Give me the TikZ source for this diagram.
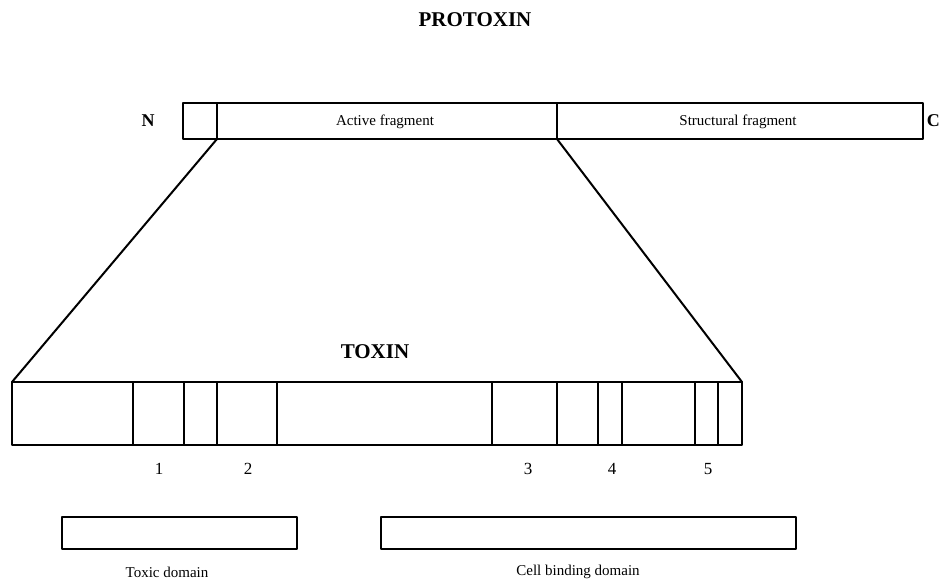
\documentclass[tikz,border=0pt]{standalone}
\usepackage{fontspec}
\setmainfont{Liberation Serif}
\begin{document}
\begin{tikzpicture}[x=1pt,y=-1pt,line cap=round,line join=round,every node/.style={font=\fontsize{15}{17}\selectfont}]
  \useasboundingbox (0,0) rectangle (942,582);
  \tikzset{heavy/.style={line width=2pt},
           title/.style={font=\fontsize{21}{24}\selectfont\bfseries},
           tag/.style={font=\fontsize{18}{20}\selectfont\bfseries}}
  % protoxin
  \coordinate (PA) at (183,103); \coordinate (PB) at (923,139);
  \coordinate (PL) at (217,139); \coordinate (PR) at (557,139);
  \draw[heavy] (PA) rectangle (PB);
  \draw[heavy] (217,103) -- (PL); \draw[heavy] (557,103) -- (PR);
  \node[title] (protoxin) at (475,20) {PROTOXIN};
  \node[tag] (nterm) at (148,121) {N};
  \node[tag,anchor=east,inner sep=0pt] (cterm) at (940,121) {C};
  \node (active) at (385,122) {Active fragment};
  \node (struct) at (738,122) {Structural fragment};
  % toxin
  \coordinate (TA) at (12,382); \coordinate (TB) at (742,445);
  \coordinate (TC) at (742,382);
  \draw[heavy] (TA) rectangle (TB);
  \foreach \x in {133,184,217,277,492,557,598,622,695,718}
    \draw[line width=1.6pt] (\x,382) -- (\x,445);
  \draw[heavy] (PL) -- (TA);
  \draw[heavy] (PR) -- (TC);
  \node[title] (toxin) at (375,352) {TOXIN};
  \foreach \n/\x in {1/159,2/248,3/528,4/612,5/708}
    \node[font=\fontsize{17}{19}\selectfont] (num\n) at (\x,469) {\n};
  % domains
  \draw[heavy] (62,517) rectangle (297,549);
  \draw[heavy] (381,517) rectangle (796,549);
  \node (toxic) at (167,572) {Toxic domain};
  \node (cellbind) at (578,572) {Cell binding domain};
\end{tikzpicture}
\end{document}
